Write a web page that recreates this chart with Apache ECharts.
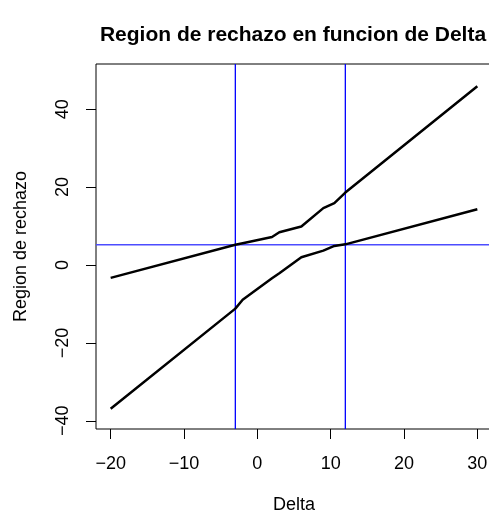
<!DOCTYPE html>
<html>
<head>
<meta charset="utf-8">
<script src="https://cdn.jsdelivr.net/npm/echarts@6/dist/echarts.min.js"></script>
<style>
  html, body { margin: 0; padding: 0; background: #fff; }
  #chart { width: 489px; height: 514px; }
</style>
</head>
<body>
<div id="chart"></div>
<script>
// Delta values where the boundaries are evaluated
const deltaValues = [-20, -3, -2, 2, 3, 6, 9, 10.5, 12, 30];
// Upper and lower boundaries of the rejection region
const upperBound = [-3.3, 5.2, 5.6, 7.2, 8.4, 9.9, 14.6, 15.9, 18.6, 45.9];
const lowerBound = [-36.9, -11.2, -8.9, -3.4, -2.1, 2.0, 3.7, 4.9, 5.3, 14.3];
// Reference lines
const criticalDeltas = [-3, 12];
const thresholdLevel = [5.2];
// Axis ticks
const xTicks = [-20, -10, 0, 10, 20, 30];
const yTicks = [-40, -20, 0, 20, 40];

// Plot window (R style: data range padded by 4%)
const X_MIN = -22, X_MAX = 32;
const Y_MIN = -42.1, Y_MAX = 51.6;

const FONT = 'Liberation Sans, Arial, Helvetica, sans-serif';
const toPairs = (xs, ys) => xs.map((x, i) => [x, ys[i]]);
const minusLabel = v => (v < 0 ? '\u2212' + Math.abs(v) : String(v));

const chart = echarts.init(document.getElementById('chart'), null, { renderer: 'canvas' });

function plainLine(points, color, width, z) {
  return {
    type: 'line',
    data: points,
    showSymbol: false,
    symbol: 'none',
    silent: true,
    clip: true,
    z: z,
    itemStyle: { color: color },
    lineStyle: { color: color, width: width, type: 'solid' },
    emphasis: { disabled: true }
  };
}

const series = [
  plainLine(toPairs(deltaValues, upperBound), '#000', 2.5, 3),
  plainLine(toPairs(deltaValues, lowerBound), '#000', 2.5, 3)
]
  // vertical lines at the critical deltas
  .concat(criticalDeltas.map(d => plainLine([[d, Y_MIN], [d, Y_MAX]], '#0000ff', 1.3, 2)))
  // horizontal line at the threshold level
  .concat(thresholdLevel.map(h => plainLine([[X_MIN, h], [X_MAX, h]], '#4d4dff', 1.5, 2)));

chart.setOption({
  animation: false,
  backgroundColor: '#fff',
  title: {
    text: 'Region de rechazo en funcion de Delta',
    left: 288,
    top: 20,
    textAlign: 'center',
    textStyle: { fontFamily: FONT, fontSize: 21, fontWeight: 'bold', color: '#000' }
  },
  grid: {
    left: 96, right: -3, top: 64, bottom: 85,
    outerBoundsMode: 'none',
    containLabel: false,
    show: true, borderColor: '#000', borderWidth: 1, backgroundColor: 'transparent'
  },
  xAxis: {
    type: 'value',
    min: X_MIN, max: X_MAX,
    name: 'Delta',
    nameLocation: 'middle',
    nameGap: 67,
    nameTextStyle: { fontFamily: FONT, fontSize: 18, color: '#000' },
    axisLine: { show: false, onZero: false },
    splitLine: { show: false },
    axisTick: { show: true, length: 10, customValues: xTicks, lineStyle: { color: '#000', width: 1 } },
    axisLabel: {
      customValues: xTicks,
      margin: 26,
      fontFamily: FONT, fontSize: 18, color: '#000',
      formatter: minusLabel
    }
  },
  yAxis: {
    type: 'value',
    min: Y_MIN, max: Y_MAX,
    name: 'Region de rechazo',
    nameLocation: 'middle',
    nameGap: 66,
    nameTextStyle: { fontFamily: FONT, fontSize: 18, color: '#000' },
    axisLine: { show: false, onZero: false },
    splitLine: { show: false },
    axisTick: { show: true, length: 10, customValues: yTicks, lineStyle: { color: '#000', width: 1 } },
    axisLabel: {
      customValues: yTicks,
      rotate: 90,
      margin: 24,
      fontFamily: FONT, fontSize: 18, color: '#000',
      formatter: minusLabel
    }
  },
  series: series
});
</script>
</body>
</html>
